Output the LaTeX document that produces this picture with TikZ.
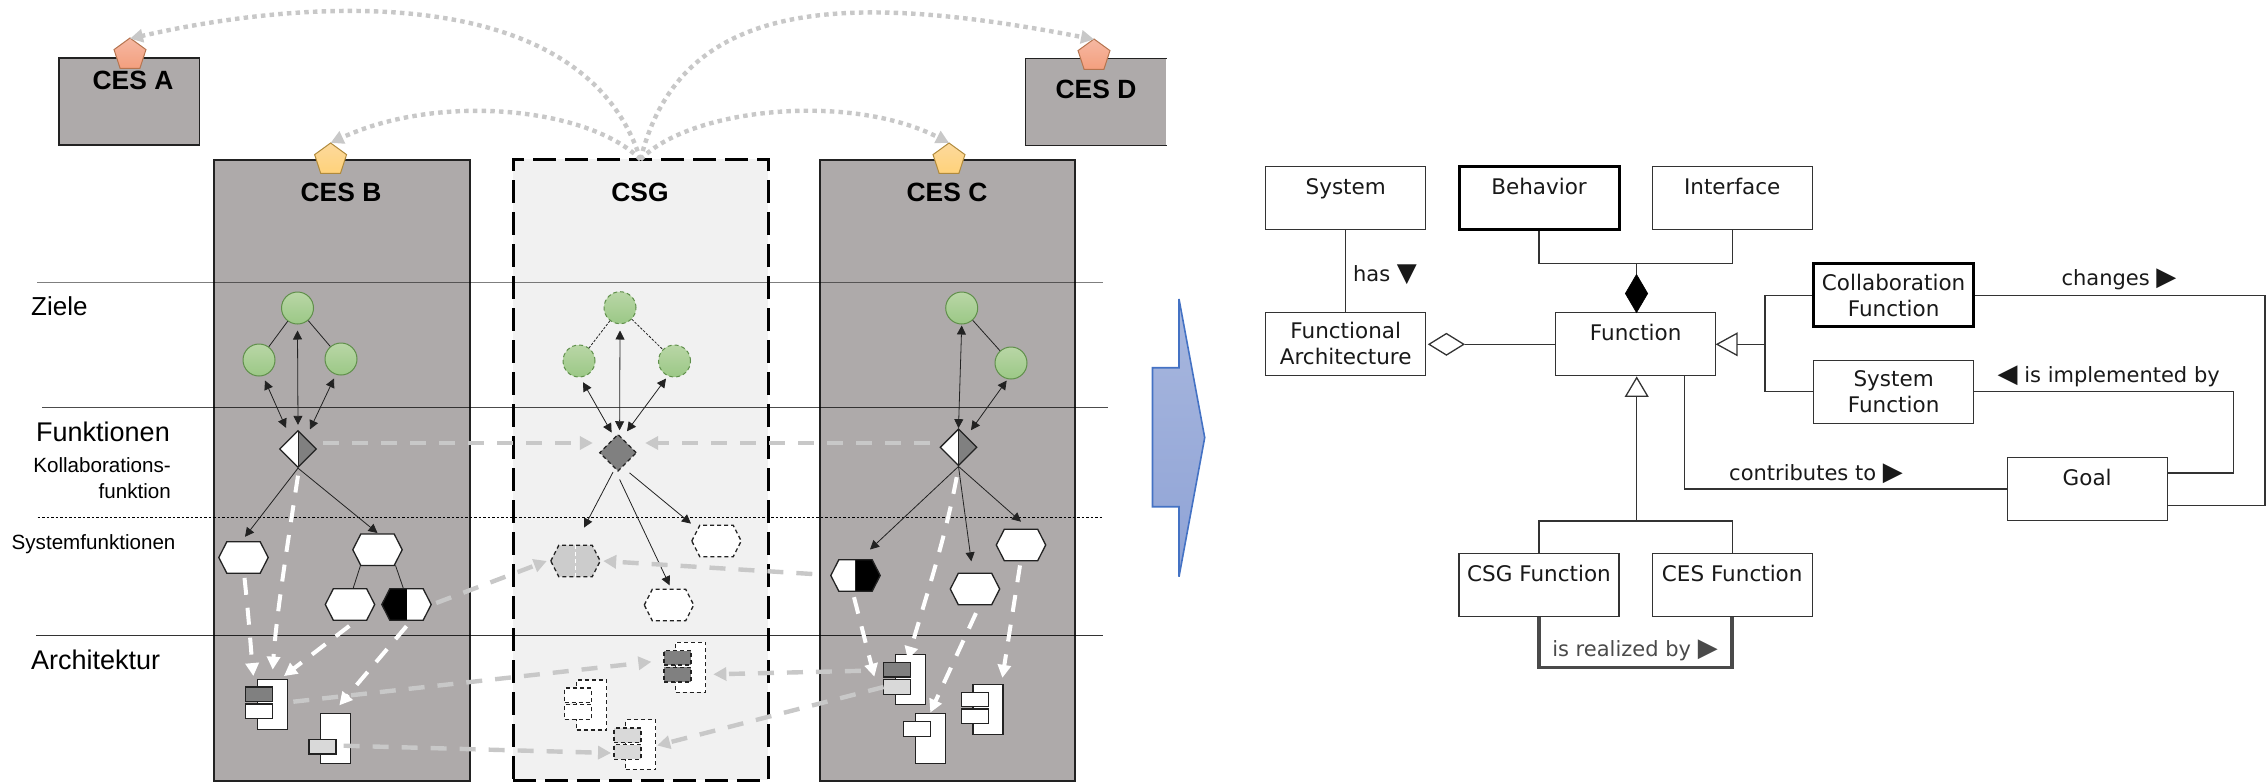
\documentclass[tikz,border=0pt]{standalone}
\usepackage{fontspec}
\setmainfont{Liberation Sans}
\newfontfamily\umlfont{DejaVu Sans}
\usetikzlibrary{arrows.meta,shapes.geometric}
\definecolor{cesfill}{HTML}{AEAAAA}
\definecolor{csgfill}{HTML}{F1F1F1}
\definecolor{linec}{HTML}{222222}
\definecolor{softgray}{HTML}{C8C8C8}
\definecolor{midgray}{HTML}{808080}
\definecolor{portlight}{HTML}{D9D9D9}
\definecolor{hexgray}{HTML}{CCCCCC}
\definecolor{umlc}{HTML}{333333}
\definecolor{realc}{HTML}{4A4A4A}
\definecolor{HTMLred}{HTML}{B5744F}
\definecolor{HTMLredtop}{HTML}{F5B8A2}
\definecolor{HTMLredbot}{HTML}{F49F7E}
\definecolor{HTMLyel}{HTML}{B08A3C}
\definecolor{HTMLyeltop}{HTML}{FCD99C}
\definecolor{HTMLyelbot}{HTML}{FFD27A}
\definecolor{HTMLgreen}{HTML}{5F8F4A}
\definecolor{HTMLgtop}{HTML}{B9D6A6}
\definecolor{HTMLgbot}{HTML}{9BC886}
\definecolor{arrowtop}{HTML}{A8B7DE}
\definecolor{arrowbot}{HTML}{8FA3D6}
\definecolor{arrowline}{HTML}{4472C4}
\tikzset{
  cesbox/.style={rectangle,fill=cesfill,draw=linec,line width=1.4pt,inner sep=0pt},
  csgbox/.style={rectangle,fill=csgfill,draw=black,line width=3pt,dash pattern=on 23pt off 9pt,inner sep=0pt},
  title/.style={font=\bfseries\fontsize{26.4}{30}\selectfont,inner sep=0pt},
  lanelabel/.style={font=\fontsize{27}{30}\selectfont,inner sep=0pt,text=black},
  sublabel/.style={font=\fontsize{20.6}{25}\selectfont,inner sep=0pt,text=black},
  penta/.style={regular polygon,regular polygon sides=5,minimum size=33.6pt,inner sep=0pt,line width=1pt},
  pentared/.style={penta,draw=HTMLred,top color=HTMLredtop,bottom color=HTMLredbot},
  pentayel/.style={penta,draw=HTMLyel,top color=HTMLyeltop,bottom color=HTMLyelbot},
  goalc/.style={circle,minimum size=32pt,inner sep=0pt,draw=HTMLgreen,line width=1pt,top color=HTMLgtop,bottom color=HTMLgbot},
  dsh/.style={dash pattern=on 4pt off 3pt},
  thinline/.style={draw=linec,line width=.8pt},
  thinarr/.style={thinline,-{Triangle[length=9pt,width=9pt]}},
  dblarr/.style={thinline,{Triangle[length=9pt,width=9pt]}-{Triangle[length=9pt,width=9pt]}},
  collab/.style={diamond,aspect=1,minimum width=37pt,minimum height=37pt,inner sep=0pt,draw=linec,line width=1.3pt},
  halfdia/.style={collab,fill=white,path picture={\fill[midgray] (path picture bounding box.north) rectangle (path picture bounding box.south east);\draw[linec,line width=.8pt] (path picture bounding box.north) -- (path picture bounding box.south);}},
  hexbox/.style={rectangle,minimum width=49pt,minimum height=31pt,inner sep=0pt},
  hexa/.style={draw=linec,line width=1.3pt,fill=white,line join=miter},
  hexblackleft/.style={hexa,path picture={\fill[black] (path picture bounding box.north west) rectangle (path picture bounding box.south);}},
  hexblackright/.style={hexa,path picture={\fill[black] (path picture bounding box.north) rectangle (path picture bounding box.south east);\draw[linec,line width=.8pt] (path picture bounding box.north) -- (path picture bounding box.south);}},
  hexsplit/.style={hexa,dsh,fill=hexgray,path picture={\draw[white,line width=1pt] (path picture bounding box.north) -- (path picture bounding box.south);}},
  body/.style={rectangle,minimum width=30pt,minimum height=50pt,inner sep=0pt,draw=linec,line width=1.3pt,fill=white},
  port/.style={rectangle,minimum width=27pt,minimum height=14.5pt,inner sep=0pt,draw=linec,line width=1.3pt,fill=white},
  whitearr/.style={draw=white,line width=4pt,dash pattern=on 17pt off 13pt,-{Triangle[length=13pt,width=13pt]}},
  grayarr/.style={draw=softgray,line width=4.4pt,dash pattern=on 16pt off 13pt,-{Triangle[length=13pt,width=13pt]}},
  dotarr/.style={draw=softgray,line width=4.4pt,dash pattern=on 4.5pt off 4.2pt,-{Triangle[length=13pt,width=13pt]}},
  rule/.style={draw=black,line width=1pt},
  umlbox/.style={rectangle,draw=umlc,line width=1.3pt,fill=white,minimum width=160pt,minimum height=63pt,inner sep=0pt,align=center,font=\umlfont\fontsize{21.5}{26}\selectfont,text=black!90},
  umltop/.style={umlbox,text height=20pt,text depth=27.2pt},
  umlthick/.style={line width=3pt,draw=black},
  uml/.style={draw=umlc,line width=1.3pt},
  umllabel/.style={font=\umlfont\fontsize{21}{26}\selectfont,inner sep=0pt,text=black!90}
}
% a hexagon: named box, outline cut from its anchors
\newcommand\hexnode[3]{%
  \node[hexbox] (#2) at (#3) {};
  \draw[#1] (#2.west) -- ([xshift=8]#2.north west) -- ([xshift=-8]#2.north east) -- (#2.east) -- ([xshift=-8]#2.south east) -- ([xshift=8]#2.south west) -- cycle;
}
\newcommand\bigtri[1]{{\fontsize{26}{26}\selectfont #1}}
\begin{document}
\begin{tikzpicture}[x=1pt,y=-1pt]
\path[use as bounding box] (0,0) rectangle (2267,782);

% containers
\node[cesbox,minimum width=140.5pt,minimum height=87pt] (cesA) at (129.2,101.5) {};
\node[cesbox,draw=none,minimum width=140pt,minimum height=86pt] (cesD) at (1096,102) {};
\draw[draw=linec,line width=1.4pt] (cesD.north east) -- (cesD.north west) -- (cesD.south west) -- (cesD.south east);
\node[cesbox,minimum width=256pt,minimum height=621pt] (cesB) at (342,470.5) {};
\node[csgbox,minimum width=255pt,minimum height=621pt] (csg) at (640.5,469.5) {};
\node[cesbox,minimum width=255pt,minimum height=621pt] (cesC) at (947.5,470.5) {};

% lane rules
\coordinate (r1a) at (37,282); \coordinate (r1b) at (1103,282);
\coordinate (r2a) at (42,407); \coordinate (r2b) at (1108,407);
\coordinate (r3a) at (37.5,517); \coordinate (r3b) at (1103,517);
\coordinate (r4a) at (36,635); \coordinate (r4b) at (1103,635);
\draw[rule,opacity=.5] (r1a) -- (r1b);
\draw[rule,opacity=.7] (r2a) -- (r2b);
\draw[rule,line width=.8pt,dash pattern=on 2.5pt off 2pt] (r3a) -- (r3b);
\draw[rule,opacity=.8] (r4a) -- (r4b);

% lane labels
\node[lanelabel,anchor=west,font=\fontsize{26}{30}\selectfont] (lz) at (31,306) {Ziele};
\node[lanelabel,anchor=west] (lf) at (36,432) {Funktionen};
\node[sublabel,anchor=east] (lk1) at (171,465) {Kollaborations-};
\node[sublabel,anchor=east] (lk2) at (171,491) {funktion};
\node[sublabel,anchor=west] (ls) at (11.5,544) {Systemfunktionen};
\node[lanelabel,anchor=west] (la) at (31,660) {Architektur};

% pentagons and titles
\node[pentared] (pA) at (130,54.8) {};
\node[pentared] (pD) at (1094,55.8) {};
\node[pentayel] (pB) at (330.6,159.8) {};
\node[pentayel] (pC) at (949,159.8) {};
\node[title] (tA) at (133,80) {CES A};
\node[title] (tD) at (1096,89) {CES D};
\node[title] (tB) at (341,192) {CES B};
\node[title] (tG) at (640,192) {CSG};
\node[title] (tC) at (947,192) {CES C};

% goals
\node[goalc] (gB1) at (297.5,308) {};
\node[goalc] (gB2) at (259,360) {};
\node[goalc] (gB3) at (341,359) {};
\node[goalc,dsh] (gG1) at (620,307.7) {};
\node[goalc,dsh] (gG2) at (579,361) {};
\node[goalc,dsh] (gG3) at (674.5,361) {};
\node[goalc] (gC1) at (961.7,308) {};
\node[goalc] (gC2) at (1011,363) {};
\draw[thinline] (gB1) -- (gB2);
\draw[thinline] (gB1) -- (gB3);
\draw[thinline,dash pattern=on 2.5pt off 1.5pt] (gG1) -- (gG2);
\draw[thinline,dash pattern=on 2.5pt off 1.5pt] (gG1) -- (gG3);
\draw[thinline] (gC1) -- (gC2);

% collaboration functions
\node[halfdia] (dB) at (298,449) {};
\node[collab,dsh,fill=midgray] (dG) at (618,452.7) {};
\node[halfdia] (dC) at (958.5,447.3) {};

\draw[dblarr] ([shift={(0,-5)}]dB.north) -- ([shift={(0,6)}]gB1.south);
\draw[dblarr] ([shift={(-12,-2)}]dB.north) -- ([shift={(6,4)}]gB2.south);
\draw[dblarr] ([shift={(12,-.5)}]dB.north) -- ([shift={(-7,3)}]gB3.south);
\draw[dblarr] ([shift={(1.6,-3.3)}]dG.north) -- ([shift={(0,6.3)}]gG1.south);
\draw[dblarr] ([shift={(-6.4,-1)}]dG.north) -- ([shift={(4,4.7)}]gG2.south);
\draw[dblarr] ([shift={(9,-2.3)}]dG.north) -- ([shift={(-8.5,1)}]gG3.south);
\draw[dblarr] (dC.north) -- ([shift={(0,1)}]gC1.south);
\draw[dblarr] ([shift={(12.5,2)}]dC.north) -- ([shift={(-4.3,1)}]gC2.south);

% system functions
\hexnode{hexa}{hB1}{243.5,557.5}
\hexnode{hexa}{hB2}{377.5,549.7}
\hexnode{hexa}{hB3}{350,604.5}
\hexnode{hexblackleft}{hB4}{406.5,604.5}
\hexnode{hexsplit}{hG1}{575.5,561}
\hexnode{hexa,dsh}{hG2}{716.5,541}
\hexnode{hexa,dsh}{hG3}{669,605}
\hexnode{hexblackright}{hC1}{855.5,575.5}
\hexnode{hexa}{hC2}{975,589}
\hexnode{hexa}{hC3}{1021,545}
\draw[thinline] ([xshift=-17]hB2.south) -- ([xshift=3]hB3.north);
\draw[thinline] ([xshift=18]hB2.south) -- ([xshift=-3]hB4.north);

\draw[thinarr] (dB.south) -- ([shift={(1.5,-5)}]hB1.north);
\draw[thinarr] (dB.south) -- ([shift={(0,-1)}]hB2.north);
\draw[thinarr] ([shift={(-5,.3)}]dG.south) -- ([shift={(8.5,-17.7)}]hG1.north);
\draw[thinarr] ([shift={(1.6,7.6)}]dG.south) -- ([shift={(.6,-4)}]hG3.north);
\draw[thinarr] ([shift={(11.5,1)}]dG.south) -- ([shift={(-25.5,-1.7)}]hG2.north);
\draw[thinarr] (dC.south) -- ([shift={(14.5,-10.3)}]hC1.north);
\draw[thinarr] (dC.south) -- ([shift={(-3.7,-12)}]hC2.north);
\draw[thinarr] (dC.south) -- ([shift={(0,-7.6)}]hC3.north);

% components CES B
\node[body] (bB1) at (272.7,704.3) {};
\node[port,fill=midgray] (pB1a) at (258.8,694.3) {};
\node[port] (pB1b) at (258.8,711.3) {};
\node[body] (bB2) at (335.7,738.7) {};
\node[port,fill=portlight] (pB2a) at (322.4,746.7) {};
% components CSG
\node[body,dsh] (bG1) at (690.7,667.3) {};
\node[port,dsh,fill=midgray] (pG1a) at (677.5,657.8) {};
\node[port,dsh,fill=midgray] (pG1b) at (677.5,674.7) {};
\node[body,dsh] (bG2) at (591.7,705) {};
\node[port,dsh] (pG2a) at (578.2,695.3) {};
\node[port,dsh] (pG2b) at (578.2,712) {};
\node[body,dsh] (bG3) at (640.5,744.5) {};
\node[port,dsh,fill=portlight] (pG3a) at (627.5,735.3) {};
\node[port,dsh,fill=portlight] (pG3b) at (627.5,752) {};
% components CES C
\node[body] (bC1) at (910.7,679.2) {};
\node[port,fill=midgray] (pC1a) at (896.8,669.8) {};
\node[port,fill=portlight] (pC1b) at (896.8,687) {};
\node[body] (bC2) at (930.3,738.2) {};
\node[port] (pC2a) at (917.2,729) {};
\node[body] (bC3) at (988,709.2) {};
\node[port] (pC3a) at (975.2,699.5) {};
\node[port] (pC3b) at (975.2,716.3) {};

% grey dashed exchange arrows
\draw[grayarr] ([shift={(6,-6)}]dB.east) -- ([shift={(-6,-9.7)}]dG.west);
\draw[grayarr] ([shift={(-9.8,-4.3)}]dC.west) -- ([shift={(8,-9.7)}]dG.east);
\draw[grayarr] ([shift={(5,-1.5)}]hB4.east) -- ([shift={(-4,0)}]hG1.west);
\draw[grayarr] ([shift={(-18.5,-1.5)}]hC1.west) -- ([shift={(3,0)}]hG1.east);
\draw[grayarr] ([shift={(5,-2.6)}]bB1.east) -- ([shift={(-12,4)}]pG1a.west);
\draw[grayarr] ([shift={(-21.7,1)}]pC1a.west) -- ([shift={(7,7)}]bG1.east);
\draw[grayarr] ([shift={(-7.7,7)}]bB2.east) -- ([shift={(-2.3,1)}]pG3b.west);
\draw[grayarr] ([shift={(1,0)}]pC1b.west) -- ([shift={(1,1)}]bG3.east);

% white dashed allocation arrows
\draw[whitearr] ([shift={(1,4.7)}]hB1.south) .. controls (249,620) and (251,650) .. ([shift={(-3.7,-2.6)}]bB1.north west);
\draw[whitearr] ([shift={(0,7.5)}]dB.south) .. controls (285,560) and (276,620) .. ([shift={(0,-9)}]bB1.north);
\draw[whitearr] ([shift={(-.7,5.7)}]hB3.south) -- ([shift={(-4.4,-2.6)}]bB1.north east);
\draw[whitearr] ([shift={(0,6)}]hB4.south) -- ([shift={(3.6,-7.7)}]bB2.north);
\draw[whitearr] ([shift={(-1.5,6)}]hC1.south) -- ([shift={(-8.3,6.9)}]pC1a.west);
\draw[whitearr] ([shift={(-1.8,10.7)}]dC.south) .. controls (945,540) and (925,600) .. ([shift={(-3,6)}]bC1.north);
\draw[whitearr] ([shift={(1,8.4)}]hC2.south) -- (bC2.north);
\draw[whitearr] ([shift={(-1,4.7)}]hC3.south) -- ([shift={(-1.3,-5.7)}]bC3.north east);

% dotted interface arrows
\draw[dotarr] ([yshift=-2]csg.north) .. controls (585,-15) and (320,-5) .. ([yshift=-1.3]pA.north);
\draw[dotarr] ([yshift=-2]csg.north) .. controls (680,0) and (840,-10) .. ([yshift=-1]pD.north);
\draw[dotarr] ([yshift=-2]csg.north) .. controls (590,108) and (440,92) .. ([yshift=-.5]pB.north);
\draw[dotarr] ([yshift=-2]csg.north) .. controls (690,108) and (850,92) .. ([yshift=-.5]pC.north);

% block arrow between panels
\coordinate (ba1) at (1152.5,367.7);
\coordinate (ba2) at (1179,367.7);
\coordinate (ba3) at (1179,299);
\coordinate (ba4) at (1204.7,437.6);
\coordinate (ba5) at (1179,576.7);
\coordinate (ba6) at (1179,506.7);
\coordinate (ba7) at (1152.5,506.7);
\draw[draw=arrowline,line width=1.6pt,top color=arrowtop,bottom color=arrowbot] (ba1) -- (ba2) -- (ba3) -- (ba4) -- (ba5) -- (ba6) -- (ba7) -- cycle;

% UML classes
\node[umltop] (sys) at (1345.7,198.3) {System};
\node[umltop,umlthick] (beh) at (1539,198.3) {Behavior};
\node[umltop] (int) at (1732.2,198.3) {Interface};
\node[umlbox] (fa) at (1345.7,343.7) {Functional\\Architecture};
\node[umltop] (func) at (1635.7,343.7) {Function};
\node[umlbox,umlthick] (cof) at (1893.6,295.4) {Collaboration\\Function};
\node[umlbox] (sysf) at (1893.6,391.8) {System\\Function};
\node[umltop] (goal) at (2087.2,488.7) {Goal};
\node[umltop] (csgf) at (1539,585.2) {CSG Function};
\node[umltop] (cesf) at (1732.2,585.2) {CES Function};

% UML connectors
\draw[uml] (sys) -- (fa);
\node[umllabel] (lhas) at (1385,275) {has \bigtri{▼}};
\coordinate (bar1) at (1636.5,263.3);
\draw[uml] (beh.south) |- (bar1) -| (int.south);
\node[diamond,aspect=1,minimum width=22.6pt,minimum height=38.4pt,inner sep=0pt,fill=black,draw=black,line width=.6pt] (cmp) at (1636.5,293.5) {};
\draw[uml] (bar1) -- (cmp.north);
\node[diamond,aspect=1,minimum width=35.3pt,minimum height=22pt,inner sep=0pt,fill=white,draw=umlc,line width=1.3pt] (agg) at (1446.4,344.3) {};
\draw[uml] (agg.east) -- (agg.east -| func.west);

\coordinate (gr1tip) at (1717,344.3);
\coordinate (gr1base) at (1737,344.3);
\coordinate (gr1split) at (1765,344.3);
\draw[uml,fill=white] (gr1tip) -- ([yshift=-11]gr1base) -- ([yshift=11]gr1base) -- cycle;
\draw[uml] (gr1base) -- (gr1split);
\draw[uml] (cof.west) -| (gr1split) |- (sysf.west);

\coordinate (rc1) at (2265,505.3);
\draw[uml] (cof.east) -| (rc1) -- (rc1 -| goal.east);
\node[umllabel] (lch) at (2119,279) {changes \bigtri{▶}};
\coordinate (rc2) at (2233.3,473);
\draw[uml] (sysf.east) -| (rc2) -- (rc2 -| goal.east);
\node[umllabel] (lim) at (2108.7,376) {\bigtri{◀} is implemented by};
\coordinate (rc3) at (1684.5,489);
\draw[uml] (goal.west |- rc3) -- (rc3) -- (rc3 |- func.south);
\node[umllabel] (lco) at (1816,474) {contributes to \bigtri{▶}};

\coordinate (gr2tip) at (1636.7,377.7);
\coordinate (gr2base) at (1636.7,396.3);
\coordinate (bar2) at (1636.7,521);
\draw[uml,fill=white] (gr2tip) -- ([xshift=-11]gr2base) -- ([xshift=11]gr2base) -- cycle;
\draw[uml] (gr2base) -- (bar2);
\draw[uml] (csgf.north) |- (bar2) -| (cesf.north);

\coordinate (rl1) at (1539.5,667.3);
\draw[draw=realc,line width=3.6pt,line join=miter] (csgf.south) |- (rl1) -| (cesf.south);
\node[umllabel,text=realc] (lre) at (1635,650) {is realized by \bigtri{▶}};
\end{tikzpicture}
\end{document}
